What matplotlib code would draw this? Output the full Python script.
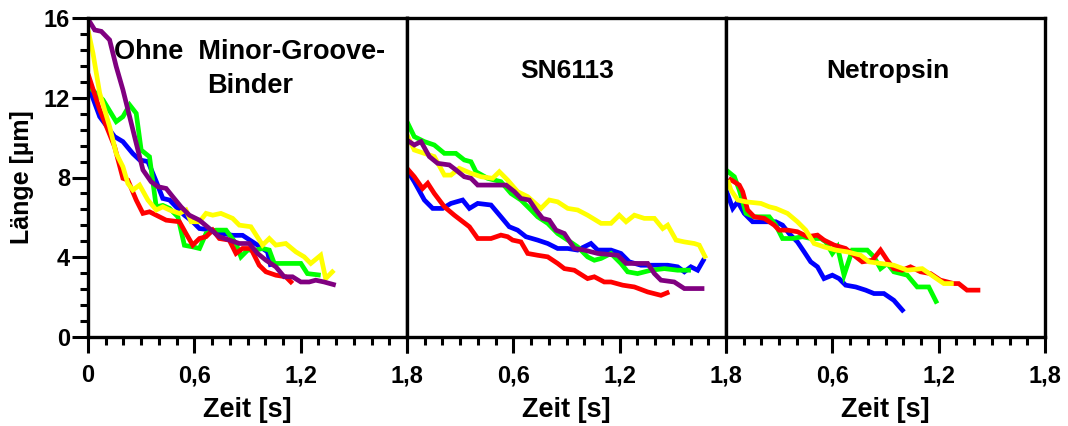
import matplotlib
matplotlib.use("Agg")
import matplotlib.pyplot as plt
from matplotlib.ticker import MultipleLocator, FuncFormatter

plt.rcParams['font.family'] = ['Liberation Sans', 'DejaVu Sans']
plt.rcParams['font.weight'] = 'bold'

# ---------------- data (time in s, length in µm) ----------------
# Panel 1: Ohne Minor-Groove-Binder
p1_blue_t = [0, 0.066, 0.15, 0.197, 0.253, 0.291, 0.338, 0.385, 0.422, 0.46, 0.497, 0.544, 0.591, 0.629, 0.704, 0.76, 0.816, 0.872, 0.929, 0.985, 1.013, 1.032]
p1_blue_y = [12.65, 11.05, 10.05, 9.8, 9.2, 8.88, 8.8, 7.8, 6.95, 6.87, 6.53, 6.11, 5.78, 5.44, 5.36, 5.19, 5.1, 5.1, 4.77, 4.44, 4.27, 3.52]
p1_green_t = [0, 0.084, 0.159, 0.197, 0.235, 0.272, 0.3, 0.347, 0.385, 0.422, 0.46, 0.507, 0.544, 0.591, 0.629, 0.666, 0.722, 0.779, 0.835, 0.863, 0.901, 0.947, 0.985, 1.023, 1.051, 1.135, 1.201, 1.238, 1.313]
p1_green_y = [12.6, 11.9, 10.8, 11.05, 11.64, 11.22, 9.38, 9.04, 6.53, 6.6, 6.45, 6.03, 4.6, 4.52, 4.44, 5.19, 5.36, 5.36, 4.69, 4.02, 4.36, 4.36, 4.44, 4.36, 3.69, 3.69, 3.69, 3.18, 3.1]
p1_red_t = [0, 0.066, 0.15, 0.197, 0.225, 0.272, 0.31, 0.347, 0.385, 0.441, 0.516, 0.553, 0.591, 0.629, 0.666, 0.704, 0.741, 0.797, 0.835, 0.872, 0.919, 0.966, 1.004, 1.06, 1.116, 1.154]
p1_red_y = [13.2, 11.4, 9.55, 7.96, 7.87, 6.87, 6.2, 6.28, 6.11, 5.86, 5.78, 5.19, 4.61, 4.94, 5.03, 5.36, 4.94, 4.86, 4.19, 4.44, 4.44, 3.6, 3.27, 3.1, 3.02, 2.68]
p1_yellow_t = [0, 0.028, 0.066, 0.122, 0.159, 0.197, 0.225, 0.253, 0.291, 0.338, 0.385, 0.422, 0.46, 0.516, 0.553, 0.582, 0.629, 0.666, 0.704, 0.75, 0.816, 0.854, 0.919, 0.985, 1.023, 1.06, 1.116, 1.173, 1.22, 1.257, 1.313, 1.341, 1.388]
p1_yellow_y = [15.4, 14.24, 12.23, 10.55, 9.21, 8.54, 7.7, 7.37, 7.62, 6.87, 6.37, 6.53, 6.37, 6.2, 6.37, 5.78, 5.78, 6.2, 6.11, 6.2, 5.95, 5.61, 5.53, 4.61, 4.94, 4.61, 4.69, 4.27, 4.02, 3.69, 4.1, 2.93, 3.35]
p1_purple_t = [0, 0.038, 0.075, 0.122, 0.159, 0.197, 0.235, 0.272, 0.31, 0.356, 0.394, 0.441, 0.478, 0.525, 0.572, 0.629, 0.685, 0.741, 0.797, 0.854, 0.91, 0.957, 1.004, 1.06, 1.107, 1.154, 1.201, 1.248, 1.285, 1.332, 1.398]
p1_purple_y = [15.95, 15.4, 15.33, 14.9, 13.57, 12.4, 11.05, 9.72, 8.38, 7.79, 7.54, 7.45, 7.04, 6.53, 6.11, 5.86, 5.44, 5.03, 4.86, 4.69, 4.69, 4.19, 3.85, 3.52, 3.02, 3.02, 2.76, 2.76, 2.85, 2.76, 2.6]

# Panel 2: SN6113
p2_blue_t = [0, 0.041, 0.098, 0.145, 0.201, 0.248, 0.314, 0.352, 0.399, 0.474, 0.53, 0.577, 0.624, 0.671, 0.737, 0.794, 0.85, 0.907, 0.963, 1.038, 1.076, 1.151, 1.207, 1.254, 1.32, 1.396, 1.471, 1.527, 1.565, 1.602, 1.64, 1.678]
p2_blue_y = [8.38, 7.79, 6.87, 6.45, 6.45, 6.7, 6.87, 6.45, 6.7, 6.62, 6.03, 5.53, 5.36, 5.03, 4.86, 4.69, 4.44, 4.44, 4.36, 4.69, 4.36, 4.36, 4.19, 3.77, 3.6, 3.6, 3.6, 3.52, 3.27, 3.52, 3.35, 3.94]
p2_green_t = [0, 0.041, 0.098, 0.154, 0.211, 0.276, 0.323, 0.361, 0.389, 0.455, 0.53, 0.587, 0.643, 0.7, 0.737, 0.794, 0.85, 0.907, 0.963, 1.019, 1.057, 1.095, 1.151, 1.207, 1.245, 1.301, 1.377, 1.452, 1.527, 1.602]
p2_green_y = [10.8, 10.05, 9.8, 9.63, 9.21, 9.21, 8.88, 8.79, 8.29, 7.96, 7.79, 7.2, 6.87, 6.37, 6.03, 5.7, 5.19, 4.86, 4.52, 4.02, 3.85, 3.94, 4.19, 3.69, 3.27, 3.18, 3.35, 3.43, 3.35, 3.35]
p2_red_t = [0, 0.041, 0.088, 0.117, 0.154, 0.211, 0.267, 0.352, 0.399, 0.474, 0.53, 0.568, 0.596, 0.643, 0.681, 0.737, 0.794, 0.85, 0.888, 0.944, 1.019, 1.057, 1.113, 1.151, 1.217, 1.283, 1.358, 1.433, 1.48]
p2_red_y = [8.46, 8.04, 7.45, 7.71, 7.2, 6.53, 6.11, 5.53, 4.94, 4.94, 5.11, 5.03, 4.86, 4.77, 4.19, 4.1, 4.02, 3.69, 3.43, 3.35, 2.93, 3.02, 2.76, 2.76, 2.6, 2.51, 2.26, 2.09, 2.26]
p2_yellow_t = [0, 0.041, 0.098, 0.154, 0.211, 0.248, 0.295, 0.361, 0.418, 0.483, 0.521, 0.568, 0.624, 0.681, 0.756, 0.803, 0.85, 0.907, 0.963, 1.019, 1.095, 1.151, 1.198, 1.236, 1.283, 1.339, 1.396, 1.443, 1.471, 1.518, 1.565, 1.621, 1.649, 1.687]
p2_yellow_y = [10.13, 9.38, 9.21, 9.05, 8.12, 8.12, 8.46, 8.21, 8.04, 7.96, 8.29, 7.87, 7.29, 7.04, 6.45, 6.87, 6.78, 6.45, 6.37, 6.11, 5.7, 5.7, 6.11, 5.78, 6.11, 5.95, 5.95, 5.44, 5.61, 4.86, 4.77, 4.69, 4.61, 3.94]
p2_purple_t = [0, 0.041, 0.079, 0.126, 0.173, 0.239, 0.276, 0.323, 0.361, 0.399, 0.455, 0.559, 0.606, 0.643, 0.69, 0.728, 0.765, 0.803, 0.841, 0.888, 0.944, 1.001, 1.076, 1.189, 1.236, 1.358, 1.396, 1.433, 1.508, 1.565, 1.678]
p2_purple_y = [9.88, 9.63, 9.8, 9.05, 8.71, 8.63, 8.38, 8.04, 7.96, 7.62, 7.62, 7.62, 7.29, 6.95, 6.87, 6.37, 5.95, 5.86, 5.36, 5.19, 4.44, 4.36, 4.19, 4.1, 3.69, 3.69, 3.18, 2.85, 2.76, 2.43, 2.43]

# Panel 3: Netropsin
p3_blue_t = [0, 0.038, 0.066, 0.103, 0.15, 0.216, 0.281, 0.319, 0.356, 0.403, 0.441, 0.478, 0.516, 0.553, 0.6, 0.638, 0.675, 0.732, 0.788, 0.835, 0.891, 0.947, 1.004]
p3_blue_y = [7.37, 6.45, 6.78, 6.2, 5.78, 5.78, 5.78, 5.61, 5.19, 4.77, 4.27, 3.77, 3.52, 2.93, 3.1, 2.93, 2.6, 2.51, 2.35, 2.18, 2.18, 1.84, 1.26]
p3_green_t = [0, 0.047, 0.075, 0.113, 0.159, 0.244, 0.281, 0.319, 0.375, 0.432, 0.478, 0.535, 0.563, 0.6, 0.629, 0.666, 0.713, 0.797, 0.835, 0.872, 0.91, 0.947, 1.023, 1.079, 1.144, 1.191]
p3_green_y = [8.38, 8.04, 7.37, 6.2, 6.03, 6.03, 5.61, 4.94, 4.94, 5.03, 4.94, 4.94, 4.77, 4.19, 4.52, 3.1, 4.36, 4.36, 4.02, 3.43, 3.69, 3.27, 3.1, 2.51, 2.51, 1.68]
p3_red_t = [0.015, 0.075, 0.094, 0.122, 0.159, 0.216, 0.272, 0.3, 0.347, 0.403, 0.46, 0.516, 0.553, 0.61, 0.675, 0.722, 0.769, 0.826, 0.872, 0.91, 0.947, 0.994, 1.041, 1.098, 1.154, 1.21, 1.285, 1.313, 1.36, 1.435]
p3_red_y = [7.96, 7.62, 7.29, 6.37, 6.03, 5.95, 5.61, 5.36, 5.36, 5.28, 5.03, 5.11, 4.86, 4.61, 4.44, 4.1, 3.77, 3.85, 4.36, 3.85, 3.43, 3.35, 3.52, 3.27, 3.18, 2.85, 2.68, 2.68, 2.35, 2.35]
p3_yellow_t = [0.009, 0.028, 0.066, 0.113, 0.197, 0.244, 0.281, 0.347, 0.403, 0.45, 0.497, 0.553, 0.619, 0.685, 0.76, 0.807, 0.872, 0.947, 1.023, 1.107, 1.173, 1.229, 1.285]
p3_yellow_y = [7.87, 7.37, 6.87, 6.78, 6.7, 6.53, 6.45, 6.2, 5.78, 5.36, 4.69, 4.52, 4.36, 4.27, 4.1, 3.77, 3.69, 3.6, 3.35, 3.43, 3.02, 2.68, 2.68]

titles = [["Ohne  Minor-Groove-", "Binder"], ["SN6113"], ["Netropsin"]]
xlabel = "Zeit [s]"
ylabel = "Länge [µm]"
colors = {"blue": "#0000FF", "green": "#00FF00", "red": "#FF0000",
          "yellow": "#FFFF00", "purple": "#800080"}

panels = [
    [("blue", p1_blue_t, p1_blue_y), ("green", p1_green_t, p1_green_y), ("red", p1_red_t, p1_red_y),
     ("yellow", p1_yellow_t, p1_yellow_y), ("purple", p1_purple_t, p1_purple_y)],
    [("blue", p2_blue_t, p2_blue_y), ("green", p2_green_t, p2_green_y), ("red", p2_red_t, p2_red_y),
     ("yellow", p2_yellow_t, p2_yellow_y), ("purple", p2_purple_t, p2_purple_y)],
    [("blue", p3_blue_t, p3_blue_y), ("green", p3_green_t, p3_green_y), ("red", p3_red_t, p3_red_y),
     ("yellow", p3_yellow_t, p3_yellow_y)],
]

fig = plt.figure(figsize=(10.68, 4.26), dpi=100)
left, right, bottom, top = 88 / 1068, 1045 / 1068, 1 - 337 / 426, 1 - 18 / 426
w = (right - left) / 3
axes = [fig.add_axes([left + i * w, bottom, w, top - bottom]) for i in range(3)]


def fmt(v, pos):
    if abs(v) < 1e-9:
        return "0"
    return ("%.1f" % v).replace(".", ",")


for i, ax in enumerate(axes):
    for name, t, y in panels[i]:
        ax.plot(t, y, color=colors[name], lw=3.4, solid_joinstyle='miter', solid_capstyle='butt')
    ax.set_xlim(0, 1.8)
    ax.set_ylim(0, 16)
    for sp in ax.spines.values():
        sp.set_linewidth(2.4)
    ax.xaxis.set_major_locator(MultipleLocator(0.6))
    ax.xaxis.set_minor_locator(MultipleLocator(0.1))
    ax.yaxis.set_major_locator(MultipleLocator(4))
    ax.yaxis.set_minor_locator(MultipleLocator(0.8))
    ax.tick_params(which='major', length=11.5, width=2.2, direction='out', labelsize=17)
    ax.tick_params(which='minor', length=6, width=2.2, direction='out')
    ax.tick_params(axis='x', which='major', pad=8)
    ax.tick_params(axis='y', which='major', pad=1.5)
    if i == 0:
        ax.xaxis.set_major_formatter(FuncFormatter(fmt))
        ax.set_ylabel(ylabel, fontsize=18, fontweight='bold', labelpad=7)
    else:
        ax.xaxis.set_major_formatter(FuncFormatter(lambda v, p: "" if abs(v) < 1e-9 else fmt(v, p)))
        ax.tick_params(axis='y', which='both', left=False, labelleft=False)
    for lab in ax.get_xticklabels() + ax.get_yticklabels():
        lab.set_fontweight('bold')
    ax.set_xlabel(xlabel, fontsize=19.5, fontweight='bold', labelpad=7)

axes[0].text(0.914, 14.3, titles[0][0], ha='center', va='center', fontsize=19.5, fontweight='bold')
axes[0].text(0.914, 12.6, titles[0][1], ha='center', va='center', fontsize=19.5, fontweight='bold')
axes[1].text(0.903, 13.35, titles[1][0], ha='center', va='center', fontsize=19, fontweight='bold')
axes[2].text(0.911, 13.35, titles[2][0], ha='center', va='center', fontsize=19, fontweight='bold')

fig.savefig("out.png", dpi=100)
